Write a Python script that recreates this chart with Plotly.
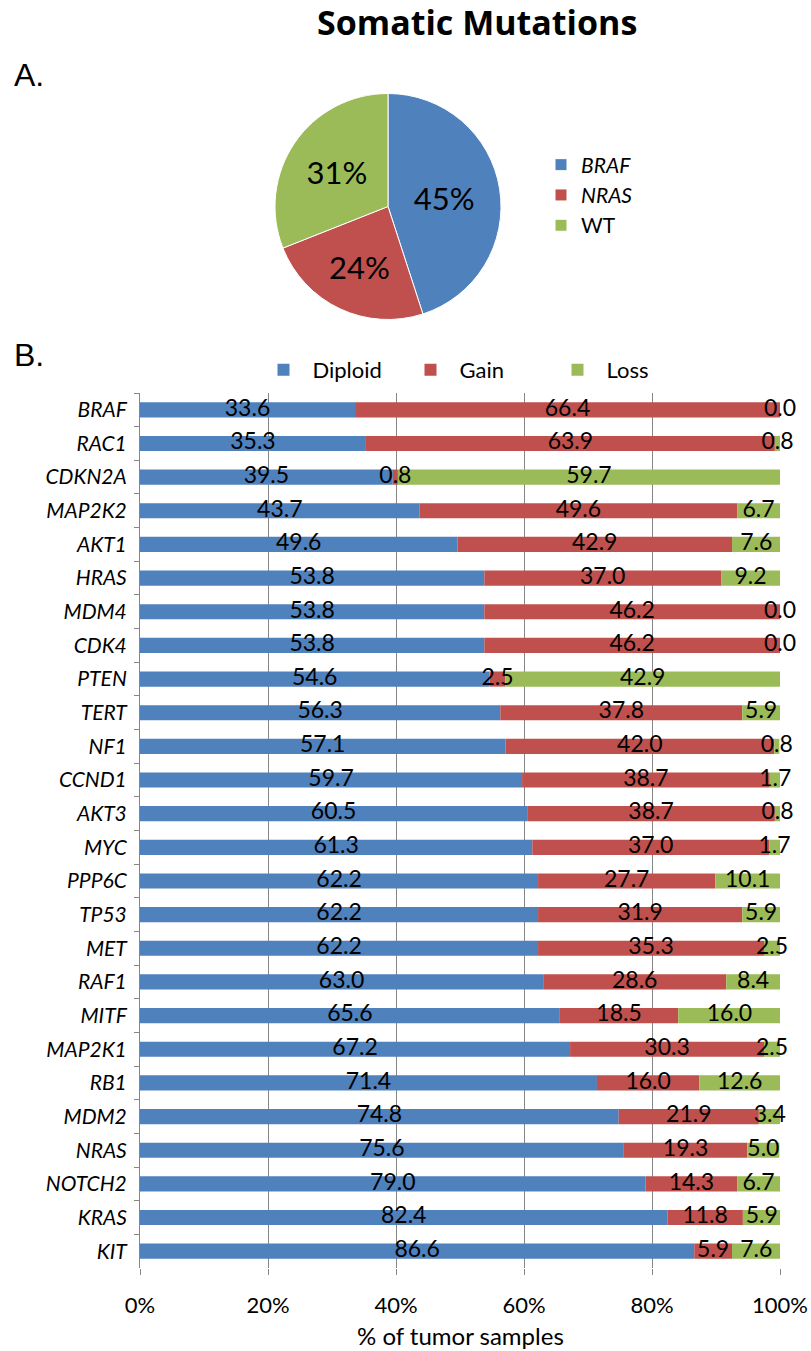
import plotly.graph_objects as go

# Somatic mutation status (pie)
mut_labels = ["BRAF", "NRAS", "WT"]
mut_pct = [45, 24, 31]

# Copy-number status per gene (% of tumor samples)
genes = ["BRAF", "RAC1", "CDKN2A", "MAP2K2", "AKT1", "HRAS", "MDM4", "CDK4", "PTEN",
         "TERT", "NF1", "CCND1", "AKT3", "MYC", "PPP6C", "TP53", "MET", "RAF1", "MITF",
         "MAP2K1", "RB1", "MDM2", "NRAS", "NOTCH2", "KRAS", "KIT"]
diploid = [33.6, 35.3, 39.5, 43.7, 49.6, 53.8, 53.8, 53.8, 54.6, 56.3, 57.1, 59.7, 60.5,
           61.3, 62.2, 62.2, 62.2, 63.0, 65.6, 67.2, 71.4, 74.8, 75.6, 79.0, 82.4, 86.6]
gain = [66.4, 63.9, 0.8, 49.6, 42.9, 37.0, 46.2, 46.2, 2.5, 37.8, 42.0, 38.7, 38.7,
        37.0, 27.7, 31.9, 35.3, 28.6, 18.5, 30.3, 16.0, 21.9, 19.3, 14.3, 11.8, 5.9]
loss = [0.0, 0.8, 59.7, 6.7, 7.6, 9.2, 0.0, 0.0, 42.9, 5.9, 0.8, 1.7, 0.8,
        1.7, 10.1, 5.9, 2.5, 8.4, 16.0, 2.5, 12.6, 3.4, 5.0, 6.7, 5.9, 7.6]

series = [("Diploid", diploid, "#4F81BD"),
          ("Gain", gain, "#C0504D"),
          ("Loss", loss, "#9BBB59")]

FONT = "Lato, Open Sans, sans-serif"
GRID = "#868686"
W, H = 811, 1351

fig = go.Figure()

fig.add_trace(go.Pie(
    labels=["<i>BRAF</i>", "<i>NRAS</i>", "WT"],
    values=mut_pct,
    marker=dict(colors=["#4F81BD", "#C0504D", "#9BBB59"], line=dict(color="white", width=1)),
    sort=False, direction="clockwise", rotation=0,
    texttemplate=[f"{v}%" for v in mut_pct],
    textposition="inside", insidetextorientation="horizontal",
    textfont=dict(family=FONT, size=31, color="black"),
    domain=dict(x=[275 / W, 501 / W], y=[1 - 320 / H, 1 - 93 / H]),
    legend="legend2", hoverinfo="skip",
))

base = [0.0] * len(genes)
for name, vals, color in series:
    fig.add_trace(go.Bar(
        y=genes, x=vals, base=base[:], orientation="h", name=name,
        marker=dict(color=color, line=dict(width=0)),
        xaxis="x", yaxis="y",
    ))
    mids = [b + v / 2 for b, v in zip(base, vals)]
    fig.add_trace(go.Scatter(
        y=genes, x=mids, mode="text", text=[f"{v:.1f}" for v in vals],
        textposition="middle center",
        textfont=dict(family=FONT, size=23, color="black"),
        showlegend=False, hoverinfo="skip", cliponaxis=False,
    ))
    base = [b + v for b, v in zip(base, vals)]

fig.update_layout(
    width=W, height=H,
    margin=dict(l=0, r=0, t=0, b=0, autoexpand=False),
    paper_bgcolor="white", plot_bgcolor="white",
    barmode="overlay", bargap=0.55,
    font=dict(family=FONT, color="black"),
    xaxis=dict(
        domain=[140 / W, 780 / W], range=[0, 100], automargin=False,
        tickvals=[0, 20, 40, 60, 80, 100],
        ticktext=["0%", "20%", "40%", "60%", "80%", "100%"],
        showgrid=True, gridcolor=GRID, gridwidth=1, zeroline=False,
        showline=False, ticks="outside", ticklen=6, tickcolor=GRID,
        ticklabelstandoff=12,
        tickfont=dict(family=FONT, size=22, color="black"),
        anchor="y",
    ),
    yaxis=dict(
        domain=[1 - 1268 / H, 1 - 393 / H], automargin=False,
        type="category", categoryorder="array", categoryarray=genes,
        range=[len(genes) - 0.5, -0.5],
        showgrid=False, zeroline=False,
        showline=True, linecolor=GRID, linewidth=1,
        ticks="outside", tickson="boundaries", ticklen=5, tickcolor=GRID,
        ticklabelstandoff=8,
        tickfont=dict(family=FONT, size=21, color="black", style="italic"),
    ),
    legend=dict(
        orientation="h", x=475 / W, xanchor="center", y=1 - 370 / H, yanchor="middle",
        font=dict(family=FONT, size=22), itemwidth=48, entrywidth=84, traceorder="normal",
        bgcolor="rgba(0,0,0,0)",
    ),
    legend2=dict(
        x=541 / W, xanchor="left", y=1 - 195 / H, yanchor="middle",
        font=dict(family=FONT, size=21), bgcolor="rgba(0,0,0,0)",
    ),
    annotations=[
        dict(text="<b>Somatic Mutations</b>", x=477 / W, y=1 - 22 / H, xref="paper", yref="paper",
             yanchor="middle", showarrow=False,
             font=dict(family="Open Sans, sans-serif", size=34, color="black")),
        dict(text="A.", x=12 / W, y=1 - 75 / H, xref="paper", yref="paper", xanchor="left",
             yanchor="middle", showarrow=False,
             font=dict(family="Liberation Sans, Arial, sans-serif", size=32)),
        dict(text="B.", x=12 / W, y=1 - 355 / H, xref="paper", yref="paper", xanchor="left",
             yanchor="middle", showarrow=False,
             font=dict(family="Liberation Sans, Arial, sans-serif", size=32)),
        dict(text="% of tumor samples", x=460 / W, y=1 - 1335 / H, xref="paper", yref="paper",
             yanchor="middle", showarrow=False, font=dict(family=FONT, size=24)),
    ],
)

fig.write_html("out.html")
